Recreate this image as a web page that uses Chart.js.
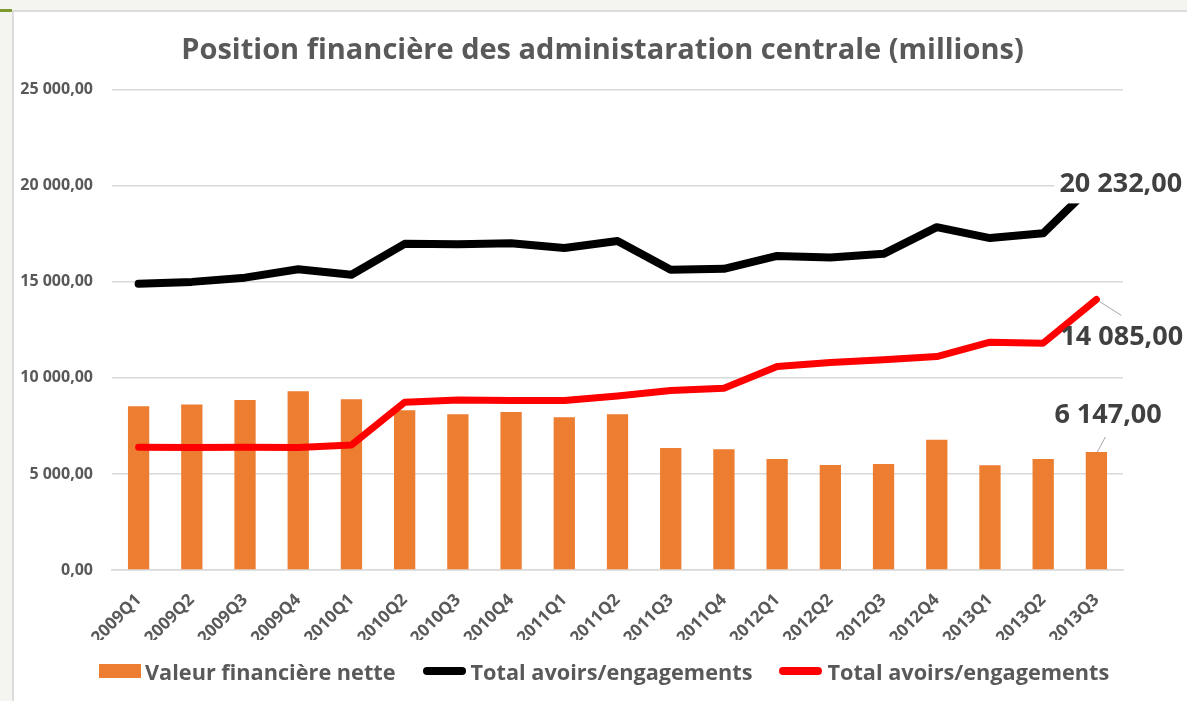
<!DOCTYPE html>
<html>
<head>
  <meta charset="utf-8">
  <title>Position financière des administaration centrale</title>
  <script src="https://cdn.jsdelivr.net/npm/chart.js"></script>
  <style>
    body {
      margin: 0;
      width: 1187px;
      height: 701px;
      overflow: hidden;
      background: #f4f4f1;
      font-family: 'Open Sans', sans-serif;
      position: relative;
    }
    .frame {
      position: absolute;
      left: 12px;
      top: 10px;
      right: 0;
      bottom: 0;
      background: white;
      border-top: 2px solid #dcdcdc;
      border-left: 2px solid #dcdcdc;
    }
    .tick {
      position: absolute;
      left: 0;
      top: 9px;
      width: 12px;
      height: 3px;
      background: #7f9a2e;
    }
    .chart-box {
      position: absolute;
      left: 14px;
      top: 12px;
      width: 1173px;
      height: 689px;
    }
    .legend {
      position: absolute;
      left: 99px;
      top: 656px;
      height: 30px;
      display: flex;
      align-items: center;
      font-size: 21.7px;
      font-weight: bold;
      color: #595959;
      white-space: nowrap;
    }
    .legend .box {
      width: 42px;
      height: 14px;
      background: #ED7D31;
      margin-right: 4px;
    }
    .legend .line {
      width: 43px;
      height: 8px;
      border-radius: 4px;
      margin-left: 4px;
      margin-right: 5px;
    }
    .legend .sep { width: 23px; }
  </style>
</head>
<body>
  <div class="frame"></div>
  <div class="tick"></div>
  <div class="chart-box">
    <canvas id="posChart"></canvas>
  </div>
  <div class="legend" id="legend"></div>

  <script>
    // data (millions)
    const quarters = ['2009Q1', '2009Q2', '2009Q3', '2009Q4', '2010Q1', '2010Q2', '2010Q3', '2010Q4',
                      '2011Q1', '2011Q2', '2011Q3', '2011Q4', '2012Q1', '2012Q2', '2012Q3', '2012Q4',
                      '2013Q1', '2013Q2', '2013Q3'];
    const valeurNette = [8520, 8610, 8850, 9300, 8890, 8315, 8110, 8230, 7950, 8110,
                         6355, 6285, 5780, 5470, 5520, 6780, 5450, 5780, 6147];
    const totalNoir   = [14900, 15000, 15220, 15660, 15370, 16980, 16960, 17010, 16760, 17130,
                         15630, 15680, 16350, 16270, 16460, 17850, 17280, 17530, 20232];
    const totalRouge  = [6390, 6380, 6390, 6380, 6510, 8730, 8850, 8820, 8820, 9060,
                         9340, 9460, 10590, 10800, 10940, 11110, 11860, 11810, 14085];
    const yTicks = [0, 5000, 10000, 15000, 20000, 25000];

    const grey = '#595959';

    function fmt(v) {
      const parts = v.toFixed(2).split('.');
      return parts[0].replace(/\B(?=(\d{3})+(?!\d))/g, ' ') + ',' + parts[1];
    }

    // labels on the last point of each series
    const lastLabels = {
      id: 'lastLabels',
      afterDatasetsDraw(chart) {
        const ctx = chart.ctx;
        const last = quarters.length - 1;
        ctx.save();
        ctx.font = 'bold 27px "Open Sans"';
        ctx.textBaseline = 'middle';
        ctx.textAlign = 'left';

        // black line: label with white box over the line end
        const pb = chart.getDatasetMeta(1).data[last];
        const tb = fmt(totalNoir[last]);
        const wb = ctx.measureText(tb).width;
        ctx.fillStyle = 'white';
        ctx.fillRect(pb.x - 42, pb.y - 18, wb + 12, 40);
        ctx.fillStyle = '#404040';
        ctx.fillText(tb, pb.x - 37, pb.y + 3);

        // red line
        const pr = chart.getDatasetMeta(2).data[last];
        ctx.strokeStyle = '#a6a6a6';
        ctx.lineWidth = 1;
        ctx.beginPath();
        ctx.moveTo(pr.x + 3, pr.y + 2);
        ctx.lineTo(pr.x + 25, pr.y + 16);
        ctx.stroke();
        ctx.fillText(fmt(totalRouge[last]), pr.x - 36, pr.y + 38);

        // bar
        const bb = chart.getDatasetMeta(0).data[last];
        ctx.beginPath();
        ctx.moveTo(bb.x + 1, bb.y);
        ctx.lineTo(bb.x + 9, bb.y - 15);
        ctx.stroke();
        ctx.fillText(fmt(valeurNette[last]), bb.x - 42, bb.y - 37);
        ctx.restore();
      }
    };

    const datasets = [
      {
        label: 'Valeur financière nette',
        data: valeurNette,
        backgroundColor: '#ED7D31',
        borderWidth: 0,
        order: 2,
        categoryPercentage: 1,
        barPercentage: 0.4
      },
      {
        label: 'Total avoirs/engagements',
        type: 'line',
        data: totalNoir,
        borderColor: '#000000',
        backgroundColor: '#000000',
        borderWidth: 8,
        borderCapStyle: 'round',
        borderJoinStyle: 'round',
        pointRadius: 0,
        tension: 0,
        order: 0
      },
      {
        label: 'Total avoirs/engagements',
        type: 'line',
        data: totalRouge,
        borderColor: '#FF0000',
        backgroundColor: '#FF0000',
        borderWidth: 7,
        borderCapStyle: 'round',
        borderJoinStyle: 'round',
        pointRadius: 0,
        tension: 0,
        order: 1
      }
    ];

    // html legend
    const legend = document.getElementById('legend');
    datasets.forEach((ds, i) => {
      if (i > 0) {
        const sep = document.createElement('span');
        sep.className = 'sep';
        legend.appendChild(sep);
      }
      const mark = document.createElement('span');
      mark.className = ds.type === 'line' ? 'line' : 'box';
      mark.style.background = ds.type === 'line' ? ds.borderColor : ds.backgroundColor;
      legend.appendChild(mark);
      const txt = document.createElement('span');
      txt.textContent = ds.label;
      legend.appendChild(txt);
    });

    function drawChart() {
      const ctx = document.getElementById('posChart').getContext('2d');
      new Chart(ctx, {
        type: 'bar',
        data: { labels: quarters, datasets: datasets },
        options: {
          responsive: true,
          maintainAspectRatio: false,
          animation: false,
          layout: { padding: { left: 4, right: 0, top: 0, bottom: 61 } },
          plugins: {
            title: {
              display: true,
              text: 'Position financière des administaration centrale (millions)',
              color: grey,
              font: { family: 'Open Sans', size: 29, weight: 'bold' },
              padding: { top: 21, bottom: 22 }
            },
            legend: { display: false },
            tooltip: { enabled: false }
          },
          scales: {
            x: {
              grid: { display: false },
              border: { color: '#d9d9d9', width: 1.5 },
              afterFit(axis) { axis.height = 70; },
              ticks: {
                color: grey,
                font: { family: 'Open Sans', size: 17, weight: 'bold' },
                minRotation: 45,
                maxRotation: 45,
                padding: 12
              }
            },
            y: {
              min: 0,
              max: 25000,
              afterBuildTicks(axis) {
                axis.ticks = yTicks.map(v => ({ value: v }));
              },
              afterFit(axis) { axis.width = 94; },
              grid: { color: '#d9d9d9', lineWidth: 1.5, drawTicks: false },
              border: { display: false },
              ticks: {
                color: grey,
                font: { family: 'Open Sans', size: 16, weight: 'bold' },
                padding: 19,
                callback: v => fmt(v)
              }
            },
            // empty right side room for the value labels
            y2: {
              position: 'right',
              grid: { display: false },
              border: { display: false },
              ticks: { display: false },
              afterFit(axis) { axis.width = 64; }
            }
          }
        },
        plugins: [lastLabels]
      });
    }

    Promise.all([
      document.fonts.load('bold 16px "Open Sans"'),
      document.fonts.load('bold 29px "Open Sans"')
    ]).then(drawChart, drawChart);
  </script>
</body>
</html>
